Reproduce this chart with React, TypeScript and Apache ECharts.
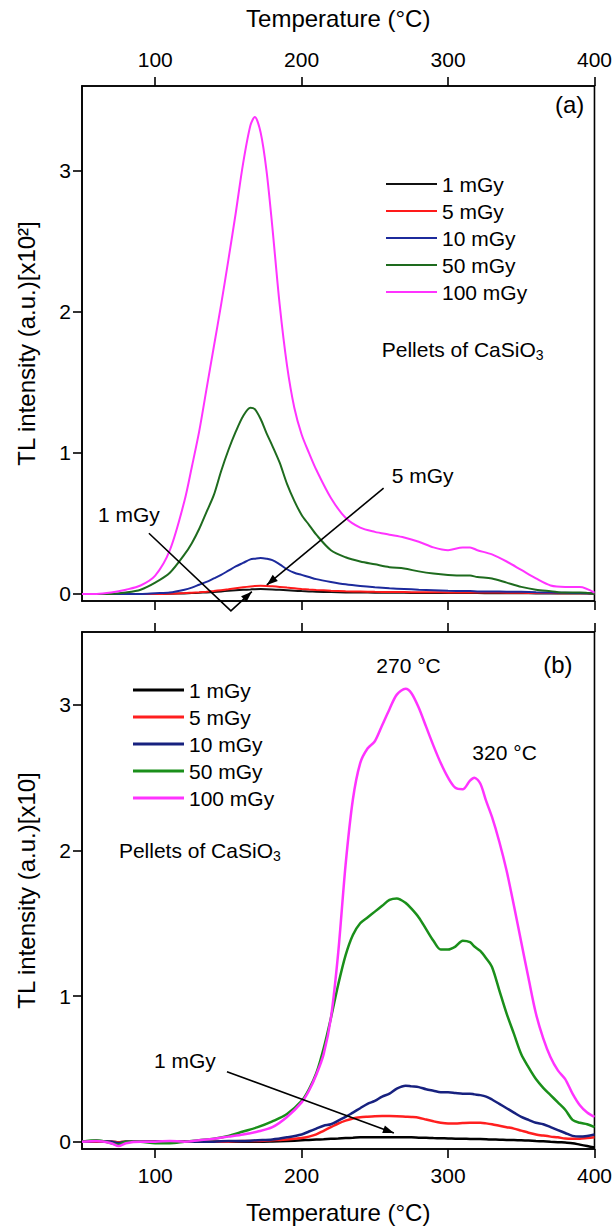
import React, { useEffect, useRef } from 'react';
import * as echarts from 'echarts';

// ---------- DATA ----------
const doseLabels = ['1 mGy', '5 mGy', '10 mGy', '50 mGy', '100 mGy'];
const xTicks = [100, 200, 300, 400];
const yTicks = [0, 1, 2, 3];

// Panel (a): TL intensity x10^2
const tempsTop = [50, 60, 70, 80, 90, 100, 110, 120, 125, 130, 135, 140, 145, 150, 155, 160, 165, 168, 172, 176, 180, 185, 190, 195, 200, 205, 210, 220, 230, 240, 250, 260, 270, 280, 290, 300, 310, 315, 320, 330, 340, 350, 360, 370, 380, 390, 400];
const topBlack = [0, 0, 0, 0, 0, 0, 0.001, 0.004, 0.006, 0.008, 0.011, 0.014, 0.018, 0.022, 0.026, 0.029, 0.032, 0.034, 0.035, 0.034, 0.032, 0.029, 0.026, 0.023, 0.02, 0.018, 0.016, 0.013, 0.011, 0.01, 0.009, 0.008, 0.008, 0.007, 0.007, 0.006, 0.006, 0.006, 0.006, 0.005, 0.005, 0.005, 0.004, 0.004, 0.003, 0.003, 0.002];
const topRed = [0, 0, 0, 0, 0, 0, 0.002, 0.006, 0.009, 0.012, 0.016, 0.021, 0.027, 0.033, 0.04, 0.047, 0.053, 0.056, 0.058, 0.057, 0.054, 0.05, 0.045, 0.04, 0.035, 0.031, 0.028, 0.023, 0.019, 0.017, 0.015, 0.014, 0.013, 0.012, 0.012, 0.011, 0.011, 0.011, 0.01, 0.01, 0.009, 0.008, 0.007, 0.006, 0.005, 0.005, 0.004];
const topBlue = [0, 0, 0, 0, 0, 0.005, 0.01, 0.03, 0.045, 0.065, 0.085, 0.11, 0.135, 0.165, 0.195, 0.22, 0.245, 0.25, 0.255, 0.25, 0.24, 0.21, 0.175, 0.15, 0.135, 0.12, 0.105, 0.085, 0.068, 0.056, 0.047, 0.04, 0.035, 0.03, 0.026, 0.022, 0.02, 0.02, 0.018, 0.017, 0.016, 0.015, 0.012, 0.01, 0.008, 0.006, 0.004];
const topGreen = [0, 0, 0, 0.01, 0.03, 0.08, 0.15, 0.28, 0.36, 0.46, 0.58, 0.7, 0.87, 1.02, 1.15, 1.26, 1.32, 1.31, 1.24, 1.14, 1.05, 0.93, 0.78, 0.66, 0.56, 0.49, 0.42, 0.31, 0.26, 0.23, 0.21, 0.19, 0.18, 0.16, 0.145, 0.135, 0.13, 0.13, 0.12, 0.11, 0.08, 0.05, 0.03, 0.02, 0.01, 0.01, 0];
const topMagenta = [0, 0, 0.01, 0.03, 0.06, 0.13, 0.31, 0.66, 0.9, 1.15, 1.45, 1.75, 2.05, 2.37, 2.7, 3.05, 3.32, 3.38, 3.27, 3.0, 2.6, 2.05, 1.62, 1.32, 1.13, 1.0, 0.88, 0.68, 0.54, 0.47, 0.44, 0.42, 0.4, 0.37, 0.33, 0.31, 0.33, 0.33, 0.31, 0.28, 0.23, 0.17, 0.11, 0.06, 0.05, 0.05, 0.01];

// Panel (b): TL intensity x10
const tempsBottom = [50, 60, 70, 75, 80, 90, 100, 110, 120, 130, 140, 150, 160, 170, 180, 190, 200, 205, 210, 215, 220, 225, 230, 235, 240, 245, 250, 255, 260, 265, 271, 275, 280, 285, 290, 295, 300, 305, 310, 315, 318, 322, 326, 330, 335, 340, 345, 350, 355, 360, 365, 370, 375, 380, 385, 390, 395, 400];
const botBlack = [0, 0, 0, -0.005, 0, 0, 0, 0, 0, 0, 0, 0, 0, 0, 0.002, 0.005, 0.01, 0.012, 0.015, 0.017, 0.02, 0.022, 0.025, 0.027, 0.03, 0.03, 0.031, 0.031, 0.031, 0.031, 0.03, 0.03, 0.028, 0.027, 0.025, 0.024, 0.022, 0.021, 0.02, 0.019, 0.018, 0.018, 0.017, 0.015, 0.014, 0.012, 0.011, 0.01, 0.008, 0.005, 0.003, 0, -0.003, -0.006, -0.01, -0.02, -0.03, -0.04];
const botRed = [0, 0, 0, -0.005, 0, 0, 0, 0, 0, 0, 0, 0, 0.005, 0.005, 0.01, 0.015, 0.025, 0.035, 0.05, 0.075, 0.1, 0.125, 0.145, 0.16, 0.168, 0.172, 0.175, 0.176, 0.176, 0.175, 0.172, 0.17, 0.165, 0.152, 0.14, 0.13, 0.125, 0.125, 0.128, 0.13, 0.13, 0.13, 0.126, 0.12, 0.11, 0.1, 0.09, 0.076, 0.062, 0.05, 0.042, 0.035, 0.03, 0.022, 0.02, 0.02, 0.025, 0.03];
const botBlue = [0, 0.005, 0, -0.01, 0, 0, 0, 0, 0, 0, 0, 0.005, 0.005, 0.01, 0.015, 0.03, 0.05, 0.07, 0.09, 0.11, 0.12, 0.145, 0.17, 0.2, 0.23, 0.26, 0.28, 0.31, 0.33, 0.365, 0.385, 0.38, 0.375, 0.36, 0.35, 0.34, 0.34, 0.335, 0.33, 0.33, 0.325, 0.32, 0.31, 0.29, 0.26, 0.23, 0.2, 0.17, 0.15, 0.13, 0.12, 0.1, 0.08, 0.06, 0.04, 0.035, 0.04, 0.05];
const botGreen = [0, 0.01, -0.01, -0.02, 0, 0, -0.01, -0.01, 0, 0.01, 0.02, 0.04, 0.07, 0.1, 0.14, 0.19, 0.28, 0.36, 0.47, 0.64, 0.85, 1.08, 1.28, 1.42, 1.5, 1.54, 1.58, 1.62, 1.66, 1.67, 1.64, 1.6, 1.54, 1.46, 1.38, 1.32, 1.32, 1.34, 1.38, 1.37, 1.34, 1.31, 1.26, 1.2, 1.04, 0.88, 0.74, 0.6, 0.51, 0.43, 0.37, 0.32, 0.27, 0.22, 0.15, 0.13, 0.12, 0.1];
const botMagenta = [0, 0.005, -0.01, -0.03, -0.01, 0, 0, 0.005, 0, 0.01, 0.02, 0.035, 0.05, 0.07, 0.1, 0.17, 0.27, 0.35, 0.46, 0.6, 0.85, 1.3, 1.9, 2.35, 2.6, 2.7, 2.75, 2.86, 2.97, 3.07, 3.11, 3.08, 2.98, 2.85, 2.72, 2.6, 2.5, 2.43, 2.42, 2.48, 2.5, 2.46, 2.34, 2.23, 2.06, 1.86, 1.62, 1.37, 1.12, 0.88, 0.71, 0.58, 0.49, 0.43, 0.33, 0.25, 0.2, 0.17];

const topValues = [topBlack, topRed, topBlue, topGreen, topMagenta];
const botValues = [botBlack, botRed, botBlue, botGreen, botMagenta];

// ---------- STYLE ----------
const FONT = '"Liberation Sans", Arial, sans-serif';
const topColors = ['#111111', '#ff1a1a', '#1c2a9c', '#1e6b1e', '#ff33ff'];
const botColors = ['#000000', '#ff1f1f', '#17217f', '#1a8f1a', '#ff33ff'];
const SUFFIX = '#b';

// annotation anchors in data coordinates [temperature, intensity]
const annTop = {
  label5: [282.6, 0.84], arrow5From: [256, 0.75], arrow5To: [176.2, 0.064],
  label1: [82, 0.56], line1From: [95.7, 0.43], line1Apex: [151.7, -0.12], line1To: [166, 0.016],
  tag: [383, 3.47], pellets: [254.7, 1.73],
};
const annBot = {
  label1: [120.3, 0.56], arrow1From: [149, 0.48], arrow1To: [263, 0.06],
  p270: [273, 3.27], p320: [338.6, 2.67], tag: [375, 3.28], pellets: [75.2, 2.0],
};

function arrowHead(tip: number[], from: number[], len = 11, half = 4) {
  const dx = tip[0] - from[0];
  const dy = tip[1] - from[1];
  const d = Math.sqrt(dx * dx + dy * dy) || 1;
  const ux = dx / d, uy = dy / d;
  const bx = tip[0] - ux * len, by = tip[1] - uy * len;
  return [[tip[0], tip[1]], [bx - uy * half, by + ux * half], [bx + uy * half, by - ux * half]];
}

function xAxisDef(gridIndex: number, position: string, labelled: boolean) {
  return {
    type: 'value', gridIndex, position, min: 50, max: 400,
    name: labelled ? 'Temperature (°C)' : '',
    nameLocation: 'middle',
    nameGap: position === 'top' ? 56 : 51,
    nameTextStyle: { fontFamily: FONT, fontSize: 24, color: '#000' },
    axisLine: { show: true, onZero: false, lineStyle: { color: '#000', width: 1.6 } },
    axisTick: { show: true, inside: false, length: 9, customValues: xTicks, lineStyle: { color: '#000', width: 1.6 } },
    axisLabel: { show: labelled, customValues: xTicks, margin: 16, fontFamily: FONT, fontSize: 21, color: '#000' },
    splitLine: { show: false },
  };
}

function yAxisDef(gridIndex: number, max: number, name: string) {
  return {
    type: 'value', gridIndex, min: -0.05, max, position: 'left',
    name, nameLocation: 'middle', nameGap: 44, nameRotate: 90,
    nameTextStyle: { fontFamily: FONT, fontSize: 24, color: '#000' },
    axisLine: { show: true, onZero: false, lineStyle: { color: '#000', width: 1.6 } },
    axisTick: { show: true, inside: false, length: 9, customValues: yTicks, lineStyle: { color: '#000', width: 1.6 } },
    axisLabel: { customValues: yTicks, margin: 11, fontFamily: FONT, fontSize: 21, color: '#000' },
    splitLine: { show: false },
  };
}

export default function App() {
  const ref = useRef<HTMLDivElement>(null);
  useEffect(() => {
    if (!ref.current) return;
    const chart = echarts.init(ref.current, null, { renderer: 'svg' });
    const series: any[] = [];
    doseLabels.forEach((name, i) => {
      series.push({
        type: 'line', name, xAxisIndex: 0, yAxisIndex: 0, symbol: 'none', smooth: 0.3,
        data: tempsTop.map((t, k) => [t, topValues[i][k]]),
        lineStyle: { color: topColors[i], width: 2 }, itemStyle: { color: topColors[i] },
      });
    });
    doseLabels.forEach((name, i) => {
      series.push({
        type: 'line', name: name + SUFFIX, xAxisIndex: 3, yAxisIndex: 1, symbol: 'none', smooth: 0.3,
        data: tempsBottom.map((t, k) => [t, botValues[i][k]]),
        lineStyle: { color: botColors[i], width: 2.5 }, itemStyle: { color: botColors[i] },
      });
    });
    const legendText = { fontFamily: FONT, fontSize: 21, color: '#000', lineHeight: 22 };
    chart.setOption({
      animation: false,
      backgroundColor: '#fff',
      grid: [
        { left: 82, top: 86, width: 513, height: 515, show: true, borderColor: '#000', borderWidth: 1.6, backgroundColor: 'transparent' },
        { left: 82, top: 632, width: 513, height: 517, show: true, borderColor: '#000', borderWidth: 1.6, backgroundColor: 'transparent' },
      ],
      xAxis: [xAxisDef(0, 'top', true), xAxisDef(0, 'bottom', false), xAxisDef(1, 'top', false), xAxisDef(1, 'bottom', true)],
      yAxis: [yAxisDef(0, 3.6, 'TL intensity (a.u.)[x10²]'), yAxisDef(1, 3.5, 'TL intensity (a.u.)[x10]')],
      legend: [
        { data: doseLabels, orient: 'vertical', left: 381, top: 168, icon: 'rect', itemWidth: 51, itemHeight: 2, itemGap: 5, textStyle: legendText, selectedMode: false },
        { data: doseLabels.map((d) => d + SUFFIX), formatter: (n: string) => n.replace(SUFFIX, ''), orient: 'vertical', left: 128, top: 674, icon: 'rect', itemWidth: 51, itemHeight: 3, itemGap: 5, textStyle: legendText, selectedMode: false },
      ],
      series,
    });

    const pt = (si: number, p: number[]) => chart.convertToPixel({ seriesIndex: si }, p) as number[];
    const T = (p: number[]) => pt(0, p);
    const B = (p: number[]) => pt(5, p);
    const txt = (pos: number[], text: string, size = 21, align = 'center') => ({
      type: 'text', x: pos[0], y: pos[1], z: 10,
      style: { text, fontFamily: FONT, fontSize: size, fill: '#000', align, verticalAlign: 'middle' },
    });
    const pellets = (pos: number[]) => ({
      type: 'text', x: pos[0], y: pos[1], z: 10,
      style: {
        text: '{m|Pellets of CaSiO}{s|3}', align: 'left', verticalAlign: 'middle', fill: '#000',
        rich: {
          m: { fontFamily: FONT, fontSize: 21, lineHeight: 26, fill: '#000' },
          s: { fontFamily: FONT, fontSize: 14, lineHeight: 26, padding: [11, 0, 0, 0], fill: '#000' },
        },
      },
    });
    const line = (pts: number[][]) => ({ type: 'polyline', z: 10, shape: { points: pts }, style: { stroke: '#000', lineWidth: 1.6, fill: null } });
    const head = (tip: number[], from: number[]) => ({ type: 'polygon', z: 10, shape: { points: arrowHead(tip, from) }, style: { fill: '#000' } });

    const a5f = T(annTop.arrow5From), a5t = T(annTop.arrow5To);
    const l1f = T(annTop.line1From), l1a = T(annTop.line1Apex), l1t = T(annTop.line1To);
    const b1f = B(annBot.arrow1From), b1t = B(annBot.arrow1To);
    chart.setOption({
      graphic: [
        txt(T(annTop.tag), '(a)', 24),
        txt(T(annTop.label5), '5 mGy'),
        line([a5f, a5t]), head(a5t, a5f),
        txt(T(annTop.label1), '1 mGy'),
        line([l1f, l1a, l1t]), head(l1t, l1a),
        pellets(T(annTop.pellets)),
        txt(B(annBot.tag), '(b)', 24),
        txt(B(annBot.p270), '270 °C'),
        txt(B(annBot.p320), '320 °C'),
        txt(B(annBot.label1), '1 mGy'),
        line([b1f, b1t]), head(b1t, b1f),
        pellets(B(annBot.pellets)),
      ],
    });
    return () => chart.dispose();
  }, []);
  return <div ref={ref} style={{ position: 'absolute', left: 0, top: 0, width: 615, height: 1228, background: '#fff' }} />;
}
